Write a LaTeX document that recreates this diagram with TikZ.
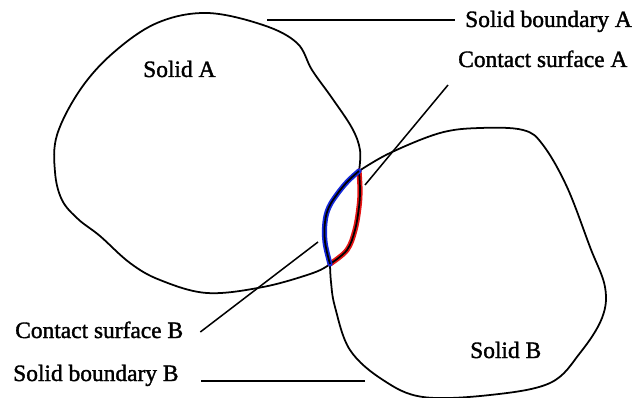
\documentclass[tikz,border=0pt]{standalone}
\usepackage{fontspec}
\setmainfont{Liberation Serif}
\newfontfamily\lblfont{Liberation Serif}[FakeBold=1.5]
\usepackage{xcolor}
\usepackage{tikz}
\usetikzlibrary{calc}

\definecolor{contA}{RGB}{230,20,20}
\definecolor{contB}{RGB}{20,40,220}

\begin{document}
\begin{tikzpicture}[
        x=0.03cm, y=-0.03cm,
        every node/.style={font=\lblfont\fontsize{20}{24}\selectfont},
        lbl/.style={inner sep=0pt, anchor=base west},
        outline/.style={line width=1.5pt, line join=round},
        contact/.style={line width=4.4pt, line cap=round},
        leader/.style={line width=1.3pt}
    ]
    \useasboundingbox (0,0) rectangle (644,398);

    % solid A
    \draw[outline] plot[smooth, tension=0.6] coordinates {
        (330,264) (313,273) (263,287) (207,293) (160,280) (130,263)
        (100,236) (78,219) (62,200) (55,172) (57,135) (80,90) (113,53)
        (157,23) (207,13) (263,25) (297,43) (312,70) (332,98)
        (352,128) (360,150) (359,171)};
    \draw[contact, contA] plot[smooth, tension=0.6] coordinates {
        (359,171) (360,190) (359,207) (355,230) (347,250) (330,264)};
    \draw[outline] plot[smooth, tension=0.6] coordinates {
        (359,171) (360,190) (359,207) (355,230) (347,250) (330,264)};

    % solid B
    \draw[outline] plot[smooth, tension=0.6] coordinates {
        (359,171) (390,153) (440,133) (480,128) (523,130) (543,145)
        (567,187) (590,247) (605,287) (602,318) (580,353) (550,383)
        (490,395) (423,397) (383,380) (350,350) (335,307) (331,282)
        (330,264)};
    \draw[contact, contB] plot[smooth, tension=0.6] coordinates {
        (359,171) (348,181) (338,193) (329,207) (325,222) (325,242)
        (330,264)};
    \draw[outline] plot[smooth, tension=0.6] coordinates {
        (359,171) (348,181) (338,193) (329,207) (325,222) (325,242)
        (330,264)};

    % labels
    \node[lbl] (solA) at (143,77) {Solid A};
    \node[lbl] (solB) at (470,358) {Solid B};
    \node[lbl] (bndA) at (465,27) {Solid boundary A};
    \node[lbl] (csA) at (458,67) {Contact surface A};
    \node[lbl] (csB) at (15,338) {Contact surface B};
    \node[lbl] (bndB) at (13,381) {Solid boundary B};

    \coordinate (bndAtip) at (267,20);
    \coordinate (csAtip) at (365,185);
    \coordinate (csBtip) at (318,242);
    \coordinate (bndBtip) at (365,381);

    \draw[leader] (bndAtip) -- ($(bndA.base west)+(-10,-7)$);
    \draw[leader] (csAtip) -- ($(csA.base west)+(-10,18)$);
    \draw[leader] (csBtip) -- ($(csB.base east)+(17,-6)$);
    \draw[leader] (bndBtip) -- ($(bndB.base east)+(22,0)$);
\end{tikzpicture}
\end{document}
